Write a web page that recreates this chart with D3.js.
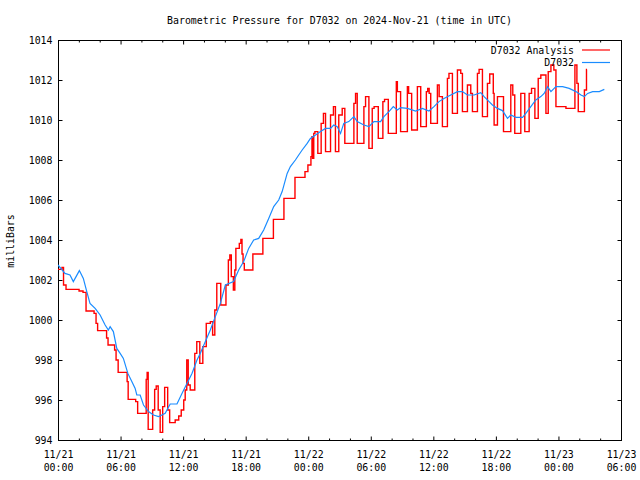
<!DOCTYPE html>
<html><head><meta charset="utf-8">
<script src="https://cdn.jsdelivr.net/npm/d3@7"></script>
<style>
body{margin:0;background:#fff}
text{font-family:'DejaVu Sans Mono','Liberation Mono',monospace;font-size:9.9px;fill:#000}
</style>
</head><body>
<svg id="c" width="640" height="480"></svg>
<script>
const titleText = "Barometric Pressure for D7032 on 2024-Nov-21 (time in UTC)";
const yLabelText = "milliBars";
const seriesNames = ["D7032 Analysis", "D7032"];
const startTime = "2024-11-21T00:00:00Z";
const endTime = "2024-11-23T06:00:00Z";
const yTicks = [994, 996, 998, 1000, 1002, 1004, 1006, 1008, 1010, 1012, 1014];
const xMajorHours = [0, 6, 12, 18, 24, 30, 36, 42, 48, 54];
const xMinorHours = [2, 4, 8, 10, 14, 16, 20, 22, 26, 28, 32, 34, 38, 40, 44, 46, 50, 52];

// D7032 Analysis (stepped), hours since start / millibars
const redHours = [0,0.38,0.53,0.77,2.02,2.4,2.69,3.46,3.65,3.8,4.66,4.8,5.43,5.57,5.77,6.63,6.73,7.45,7.64,8.46,8.55,8.65,9.08,9.27,9.42,9.61,9.8,10.04,10.23,10.52,10.71,11.24,11.58,11.82,12.06,12.2,12.35,12.49,12.68,13.12,13.31,13.6,13.89,14.22,14.61,14.83,15.04,15.23,15.61,16.11,16.34,16.48,16.62,16.82,16.96,17.06,17.39,17.54,17.65,17.75,17.87,18.69,19.65,20.66,21.67,22.73,23.69,23.97,24.26,24.36,24.42,24.53,24.64,24.92,25.24,25.46,25.66,26.14,26.42,26.61,26.93,27.26,27.51,28.38,28.54,28.7,29.34,29.5,29.82,30.14,30.32,30.72,31.16,31.32,31.68,32.45,32.55,32.86,33.51,33.63,33.92,34.47,34.79,35.33,35.46,35.6,35.75,36.39,36.56,36.87,37.35,37.5,37.83,38.31,38.63,38.79,39.27,39.59,39.75,40.23,40.39,40.71,41.19,41.41,41.75,41.83,42.15,42.73,43.43,43.62,43.81,44.39,44.77,45.19,45.42,45.74,46.06,46.31,46.8,47.02,47.28,47.56,47.76,48.72,49.58,49.77,49.9,50.49,50.69,50.74];
const redValues = [1002.53,1002.63,1001.75,1001.53,1001.45,1001.38,1000.45,1000.33,999.83,999.47,999.1,998.75,998.5,998.0,997.38,996.92,996.03,995.92,995.33,997.03,997.38,994.53,995.5,996.53,996.7,995.5,994.38,995.67,996.63,995.5,994.87,995.0,995.2,995.5,996.0,996.5,998.0,996.75,996.5,998.33,998.92,997.83,998.67,999.83,999.92,999.25,1000.5,1001.83,1000.75,1001.75,1003.0,1003.25,1002.17,1001.5,1002.5,1003.58,1003.83,1004.03,1003.3,1002.83,1002.5,1003.3,1004.08,1005.03,1006.08,1007.13,1007.42,1007.75,1008.17,1009.17,1008.08,1009.33,1009.42,1008.33,1009.83,1010.33,1008.42,1010.25,1010.67,1008.42,1010.25,1010.58,1008.83,1010.83,1011.33,1008.83,1010.67,1011.17,1008.58,1010.58,1010.67,1009.08,1010.92,1011.03,1009.33,1011.92,1011.42,1009.42,1011.67,1011.33,1009.5,1011.67,1009.67,1011.42,1011.58,1011.33,1009.83,1011.75,1011.17,1009.67,1012.08,1012.33,1010.33,1012.5,1012.33,1010.42,1011.75,1011.33,1010.42,1012.33,1012.53,1010.17,1011.83,1012.3,1011.33,1009.75,1011.17,1009.42,1011.75,1011.25,1009.33,1011.33,1009.42,1011.33,1011.58,1010.08,1012.08,1012.25,1010.33,1012.42,1012.75,1012.5,1010.67,1010.58,1012.75,1011.83,1010.42,1011.5,1012.53,1012.53];

// D7032 observations
const blueHours = [0,0.67,1.15,1.47,2.05,2.43,2.76,3.07,3.56,4.04,4.52,4.83,5.0,5.31,5.64,5.96,6.27,6.7,7.08,7.4,7.56,7.88,8.2,8.68,9.16,9.64,9.96,10.28,10.76,11.41,11.89,12.37,12.85,13.33,13.64,14.61,15.09,15.57,16.05,16.84,17.33,17.81,18.29,18.77,19.25,19.73,20.21,20.69,21.17,21.5,21.98,22.29,22.77,23.09,23.42,23.9,24.21,24.7,25.18,25.66,26.14,26.45,26.78,27.1,27.41,27.89,28.38,28.7,29.34,29.82,30.3,30.94,31.26,31.74,32.16,32.55,32.86,33.51,34.3,34.95,35.58,36.06,36.54,37.02,37.67,38.31,38.79,39.27,39.91,40.55,40.87,41.35,41.67,42.15,42.63,43.11,43.43,43.91,44.56,44.87,45.35,45.83,46.31,46.63,46.96,47.28,47.76,48.4,49.03,49.68,50.16,50.48,50.8,51.28,51.92,52.4];
const blueValues = [1002.75,1002.33,1002.25,1001.92,1002.47,1002.08,1001.42,1000.83,1000.58,1000.25,999.75,999.5,999.67,999.42,998.58,998.33,998.08,997.33,996.92,996.58,996.25,996.25,995.75,995.42,995.25,995.17,995.25,995.33,995.8,995.8,996.33,996.83,997.33,998.0,998.33,999.5,1000.17,1000.83,1001.75,1001.92,1002.5,1002.92,1003.58,1004.0,1004.08,1004.5,1005.08,1005.67,1006.0,1006.42,1007.33,1007.67,1008.0,1008.25,1008.5,1008.83,1009.08,1009.25,1009.42,1009.58,1009.58,1009.75,1009.67,1009.33,1009.83,1009.92,1010.17,1009.92,1009.75,1009.67,1009.92,1009.92,1010.17,1010.42,1010.67,1010.5,1010.62,1010.58,1010.45,1010.58,1010.45,1010.67,1010.92,1011.08,1011.25,1011.42,1011.42,1011.25,1011.25,1011.37,1011.17,1010.92,1010.75,1010.58,1010.47,1010.08,1010.25,1010.13,1010.13,1010.33,1010.67,1011.0,1011.17,1011.33,1011.67,1011.42,1011.67,1011.67,1011.58,1011.42,1011.25,1011.17,1011.33,1011.42,1011.42,1011.53];

const seriesColors = ["#ff0000", "#1a8cff"];

const svg = d3.select("#c");
const L = 58, R = 621, T = 40, B = 440;
const t0 = new Date(startTime);
const toDate = h => new Date(t0.getTime() + h * 3600e3);

const x = d3.scaleUtc().domain([t0, new Date(endTime)]).range([L, R]);
const y = d3.scaleLinear().domain([994, 1014]).range([B, T]);

svg.append("rect").attr("width", 640).attr("height", 480).attr("fill", "#fff");

svg.append("defs").append("clipPath").attr("id", "clip")
  .append("rect").attr("x", L).attr("y", T).attr("width", R - L).attr("height", B - T);

// axes
const fmtD = d3.utcFormat("%m/%d"), fmtH = d3.utcFormat("%H:%M");
const majorDates = xMajorHours.map(toDate), minorDates = xMinorHours.map(toDate);

const gB = svg.append("g").attr("transform", `translate(0,${B + 0.5})`)
  .call(d3.axisBottom(x).tickValues(majorDates).tickSizeInner(-4).tickSizeOuter(0).tickPadding(8).tickFormat(""));
gB.selectAll(".tick text").remove();
gB.selectAll(".tick").each(function(d) {
  const t = d3.select(this).append("text").attr("text-anchor", "middle").attr("fill", "#000");
  t.append("tspan").attr("x", 0).attr("y", 17).text(fmtD(d));
  t.append("tspan").attr("x", 0).attr("y", 30).text(fmtH(d));
});
svg.append("g").attr("transform", `translate(0,${B + 0.5})`)
  .call(d3.axisBottom(x).tickValues(minorDates).tickSizeInner(-2).tickSizeOuter(0).tickFormat(""));
svg.append("g").attr("transform", `translate(0,${T + 0.5})`)
  .call(d3.axisTop(x).tickValues(majorDates).tickSizeInner(-4).tickSizeOuter(0).tickFormat(""));
svg.append("g").attr("transform", `translate(0,${T + 0.5})`)
  .call(d3.axisTop(x).tickValues(minorDates).tickSizeInner(-2).tickSizeOuter(0).tickFormat(""));

svg.append("g").attr("transform", `translate(${L + 0.5},0)`)
  .call(d3.axisLeft(y).tickValues(yTicks).tickSizeInner(-4).tickSizeOuter(0).tickPadding(6).tickFormat(d3.format("d")));
svg.append("g").attr("transform", `translate(${R + 0.5},0)`)
  .call(d3.axisRight(y).tickValues(yTicks).tickSizeInner(-4).tickSizeOuter(0).tickFormat(""));

svg.selectAll(".domain").remove();
svg.selectAll(".tick line").attr("stroke", "#000");
svg.selectAll("g text").attr("font-family", null).attr("font-size", null);

svg.append("rect").attr("x", L + 0.5).attr("y", T + 0.5).attr("width", R - L).attr("height", B - T)
  .attr("fill", "none").attr("stroke", "#000").attr("stroke-width", 1);

// lines
const plot = svg.append("g").attr("clip-path", "url(#clip)");
const redData = redHours.map((h, i) => [toDate(h), redValues[i]]);
const blueData = blueHours.map((h, i) => [toDate(h), blueValues[i]]);

plot.append("path").datum(redData)
  .attr("d", d3.line().x(d => x(d[0])).y(d => y(d[1])).curve(d3.curveStepAfter))
  .attr("fill", "none").attr("stroke", seriesColors[0]).attr("stroke-width", 1.4);
plot.append("path").datum(blueData)
  .attr("d", d3.line().x(d => x(d[0])).y(d => y(d[1])))
  .attr("fill", "none").attr("stroke", seriesColors[1]).attr("stroke-width", 1.2);

// title & label
svg.append("text").attr("x", (L + R) / 2).attr("y", 20).attr("text-anchor", "middle")
  .attr("dominant-baseline", "central").text(titleText);
svg.append("text").attr("transform", `translate(10,241) rotate(-90)`).attr("text-anchor", "middle")
  .attr("dominant-baseline", "central").text(yLabelText);

// legend
const legY = [50, 62.5];
seriesNames.forEach((n, i) => {
  svg.append("text").attr("x", 574).attr("y", legY[i]).attr("text-anchor", "end")
    .attr("dominant-baseline", "central").text(n);
  svg.append("line").attr("x1", 582).attr("x2", 610).attr("y1", legY[i]).attr("y2", legY[i])
    .attr("stroke", seriesColors[i]).attr("stroke-width", 1.2);
});
</script>
</body></html>
